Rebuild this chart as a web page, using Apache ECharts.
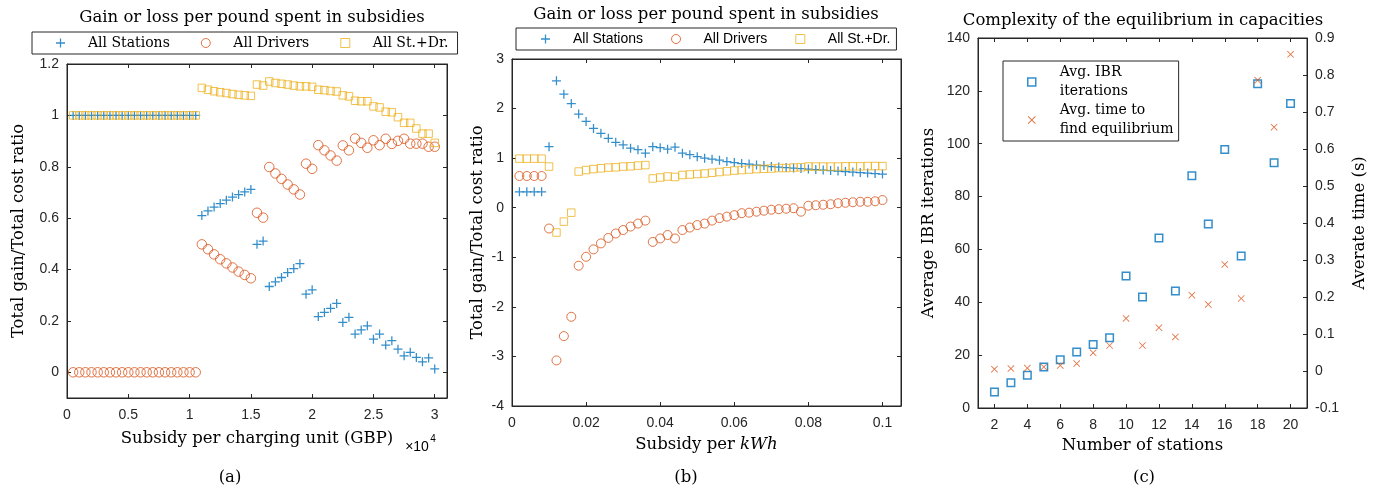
<!DOCTYPE html>
<html>
<head>
<meta charset="utf-8">
<script src="https://cdn.jsdelivr.net/npm/echarts@6/dist/echarts.min.js"></script>
<style>
  html, body { margin: 0; padding: 0; background: #fff; }
  #chart { width: 1377px; height: 488px; }
</style>
</head>
<body>
<div id="chart"></div>
<script>
// (a) subsidy per charging unit (GBP)
var aSubsidy = [500, 1000, 1500, 2000, 2500, 3000, 3500, 4000, 4500, 5000,
  5500, 6000, 6500, 7000, 7500, 8000, 8500, 9000, 9500, 10000,
  10500, 11000, 11500, 12000, 12500, 13000, 13500, 14000, 14500, 15000,
  15500, 16000, 16500, 17000, 17500, 18000, 18500, 19000, 19500, 20000,
  20500, 21000, 21500, 22000, 22500, 23000, 23500, 24000, 24500, 25000,
  25500, 26000, 26500, 27000, 27500, 28000, 28500, 29000, 29500, 30000];
var aStations = [1, 1, 1, 1, 1, 1, 1, 1, 1, 1, 1, 1, 1, 1, 1, 1, 1, 1, 1, 1, 1,
  0.61, 0.628, 0.643, 0.657, 0.670, 0.682, 0.692, 0.702, 0.712,
  0.498, 0.511, 0.334, 0.352, 0.369, 0.388, 0.404, 0.423, 0.304, 0.321,
  0.217, 0.233, 0.249, 0.268, 0.194, 0.214, 0.149, 0.165, 0.181, 0.129,
  0.149, 0.106, 0.123, 0.090, 0.064, 0.078, 0.058, 0.041, 0.056, 0.013];
var aDrivers = [0, 0, 0, 0, 0, 0, 0, 0, 0, 0, 0, 0, 0, 0, 0, 0, 0, 0, 0, 0, 0,
  0.498, 0.479, 0.459, 0.440, 0.424, 0.408, 0.392, 0.379, 0.366,
  0.621, 0.602, 0.799, 0.774, 0.753, 0.731, 0.712, 0.692, 0.812, 0.792,
  0.884, 0.864, 0.844, 0.824, 0.883, 0.864, 0.910, 0.893, 0.874, 0.903,
  0.884, 0.909, 0.889, 0.901, 0.909, 0.890, 0.890, 0.890, 0.878, 0.878];
var aStDr = [1, 1, 1, 1, 1, 1, 1, 1, 1, 1, 1, 1, 1, 1, 1, 1, 1, 1, 1, 1, 1,
  1.107, 1.100, 1.094, 1.090, 1.087, 1.083, 1.080, 1.078, 1.076,
  1.120, 1.116, 1.132, 1.126, 1.123, 1.120, 1.116, 1.113, 1.113, 1.111,
  1.100, 1.098, 1.095, 1.093, 1.078, 1.074, 1.057, 1.055, 1.055, 1.035,
  1.031, 1.014, 1.012, 0.993, 0.971, 0.971, 0.949, 0.929, 0.929, 0.893];
var aXTicks = [0, 5000, 10000, 15000, 20000, 25000, 30000];
var aYTicks = [0, 0.2, 0.4, 0.6, 0.8, 1, 1.2];

// (b) subsidy per kWh
var bSubsidy = [0.002, 0.004, 0.006, 0.008, 0.010, 0.012, 0.014, 0.016, 0.018, 0.020,
  0.022, 0.024, 0.026, 0.028, 0.030, 0.032, 0.034, 0.036, 0.038, 0.040,
  0.042, 0.044, 0.046, 0.048, 0.050, 0.052, 0.054, 0.056, 0.058, 0.060,
  0.062, 0.064, 0.066, 0.068, 0.070, 0.072, 0.074, 0.076, 0.078, 0.080,
  0.082, 0.084, 0.086, 0.088, 0.090, 0.092, 0.094, 0.096, 0.098, 0.100];
var bStations = [0.32, 0.32, 0.32, 0.32,
  1.23, 2.56, 2.29, 2.10, 1.89, 1.74, 1.60, 1.50, 1.40, 1.32,
  1.27, 1.20, 1.17, 1.10, 1.23, 1.21, 1.18, 1.22, 1.10, 1.07,
  1.03, 1.00,
  0.98, 0.96, 0.93, 0.91, 0.89, 0.88, 0.86, 0.85, 0.83, 0.82,
  0.81, 0.80, 0.79, 0.78, 0.77, 0.76, 0.75, 0.74, 0.73, 0.72,
  0.71, 0.70, 0.69, 0.68];
var bDrivers = [0.64, 0.64, 0.64, 0.64,
  -0.42, -3.08, -2.59, -2.20, -1.17, -0.99, -0.84, -0.72, -0.61, -0.52,
  -0.45, -0.38, -0.32, -0.26, -0.69, -0.62, -0.55, -0.62, -0.45, -0.40,
  -0.35, -0.32,
  -0.26, -0.21, -0.18, -0.15, -0.11, -0.10, -0.08, -0.06, -0.04, -0.03,
  -0.02, -0.01, -0.08, 0.04, 0.05, 0.06, 0.07, 0.09, 0.10, 0.11,
  0.12, 0.12, 0.13, 0.155];
var bStDr = [0.99, 0.99, 0.99, 0.99,
  0.83, -0.50, -0.28, -0.10, 0.73, 0.76, 0.78, 0.795, 0.81, 0.815,
  0.83, 0.835, 0.85, 0.86, 0.59, 0.61, 0.63, 0.62, 0.66, 0.67,
  0.68, 0.69,
  0.705, 0.72, 0.735, 0.75, 0.76, 0.77, 0.78, 0.785, 0.79, 0.80,
  0.80, 0.81, 0.815, 0.83, 0.83, 0.83, 0.83, 0.83, 0.835, 0.835,
  0.835, 0.84, 0.84, 0.84];
var bXTicks = [0, 0.02, 0.04, 0.06, 0.08, 0.1];

// (c) number of stations
var cStations = [2, 3, 4, 5, 6, 7, 8, 9, 10, 11, 12, 13, 14, 15, 16, 17, 18, 19, 20];
var cIterations = [6.1, 9.6, 12.4, 15.5, 18.3, 21.2, 24.0, 26.6, 49.9, 42.0,
  64.3, 44.3, 87.9, 69.6, 97.8, 57.5, 122.7, 92.8, 115.2];
var cTime = [0.005, 0.0065, 0.008, 0.011, 0.015, 0.020, 0.049, 0.069, 0.142, 0.069,
  0.117, 0.092, 0.205, 0.180, 0.288, 0.196, 0.786, 0.659, 0.856];
var cXTicks = [2, 4, 6, 8, 10, 12, 14, 16, 18, 20];

var BLUE = '#0072BD';
var RED = '#D95319';
var YELLOW = '#EDB120';
var AXIS = '#262626';
var SERIF = '"DejaVu Serif", serif';
var SANS = '"Liberation Sans", Arial, sans-serif';

var PLUS = 'path://M4.3,0H5.7V4.3H10V5.7H5.7V10H4.3V5.7H0V4.3H4.3Z';
var CROSS = 'path://M0.85,0L5,4.15L9.15,0L10,0.85L5.85,5L10,9.15L9.15,10L5,5.85L0.85,10L0,9.15L4.15,5L0,0.85Z';
var SQUARE = 'path://M0,0H10V10H0Z';

function pairs(xs, ys) {
  return xs.map(function (x, i) { return [x, ys[i]]; });
}

function numLabel(v) {
  return String(+v.toFixed(3));
}

function xAxisFor(grid, min, max, ticks, top, extra, fmt) {
  var ax = {
    type: 'value', gridIndex: grid, min: min, max: max,
    position: top ? 'top' : 'bottom',
    axisLine: { show: true, onZero: false, lineStyle: { color: AXIS, width: 1 } },
    axisTick: { show: true, inside: true, length: 4, customValues: ticks, lineStyle: { color: AXIS } },
    axisLabel: {
      show: !top, customValues: ticks, color: AXIS, fontFamily: SANS, fontSize: 14, margin: 10,
      formatter: fmt || numLabel
    },
    splitLine: { show: false }
  };
  return Object.assign(ax, extra || {});
}

function yAxisFor(grid, min, max, ticks, right, extra) {
  var ax = {
    type: 'value', gridIndex: grid, min: min, max: max,
    position: right ? 'right' : 'left',
    axisLine: { show: true, onZero: false, lineStyle: { color: AXIS, width: 1 } },
    axisTick: { show: true, inside: true, length: 4, lineStyle: { color: AXIS } },
    axisLabel: { show: !right, color: AXIS, fontFamily: SANS, fontSize: 14, margin: 8, formatter: numLabel },
    splitLine: { show: false }
  };
  if (ticks) {
    ax.axisTick.customValues = ticks;
    ax.axisLabel.customValues = ticks;
  }
  return Object.assign(ax, extra || {});
}

var hollow = function (c, w) { return { color: 'rgba(0,0,0,0)', borderColor: c, borderWidth: w || 1 }; };

function sset(name, x, y, data, symbol, size, style) {
  return {
    name: name, type: 'scatter', xAxisIndex: x, yAxisIndex: y,
    data: data, symbol: symbol, symbolSize: size, itemStyle: style,
    silent: true, animation: false
  };
}

var nameStyle = { fontFamily: SERIF, fontSize: 16.5, color: '#000' };
var titleFont = '16.5px ' + SERIF;
function txt(x, y, text, font) {
  return {
    type: 'text', x: x, y: y,
    style: { text: text, font: font, fill: '#000', align: 'center', verticalAlign: 'middle',
      textAlign: 'center', textVerticalAlign: 'middle' }
  };
}

var stationLegend = [
  { name: 'All Stations', icon: PLUS, itemStyle: { color: BLUE } },
  { name: 'All Drivers', icon: 'circle', itemStyle: hollow(RED) },
  { name: 'All St.+Dr.', icon: SQUARE, itemStyle: hollow(YELLOW) }
];

var chart = echarts.init(document.getElementById('chart'));

chart.setOption({
  animation: false,
  backgroundColor: '#fff',
  grid: [
    { left: 67, top: 64, width: 380, height: 334, show: true, borderColor: AXIS, borderWidth: 1 },
    { left: 512, top: 59, width: 389, height: 347, show: true, borderColor: AXIS, borderWidth: 1 },
    { left: 978, top: 38, width: 329, height: 370, show: true, borderColor: AXIS, borderWidth: 1 }
  ],
  legend: [
    {
      left: 32, top: 32, orient: 'horizontal', padding: [4, 9, 4, 24], itemGap: 31,
      itemWidth: 9, itemHeight: 9, borderColor: AXIS, borderWidth: 1,
      textStyle: { fontFamily: SERIF, fontSize: 14, color: '#000', padding: [0, 0, 0, 18] },
      data: stationLegend
    },
    {
      left: 516, top: 28, orient: 'horizontal', padding: [4, 6, 4, 25], itemGap: 28,
      itemWidth: 9, itemHeight: 9, borderColor: AXIS, borderWidth: 1,
      textStyle: { fontFamily: SANS, fontSize: 14, color: '#000', padding: [0, 0, 0, 18] },
      data: stationLegend
    },
    {
      left: 1003, top: 61, orient: 'vertical', padding: [2, 5, 2, 24], itemGap: 0,
      itemWidth: 8, itemHeight: 8, borderColor: AXIS, borderWidth: 1, backgroundColor: '#fff',
      textStyle: { fontFamily: SERIF, fontSize: 14, color: '#000', lineHeight: 19, padding: [0, 0, 0, 19] },
      formatter: function (name) {
        return name === 'Avg. IBR iterations' ? 'Avg. IBR\niterations' : 'Avg. time to\nfind equilibrium';
      },
      data: [
        { name: 'Avg. IBR iterations', icon: SQUARE, itemStyle: hollow(BLUE, 1.5) },
        { name: 'Avg. time to find equilibrium', icon: CROSS, itemStyle: { color: RED } }
      ]
    }
  ],
  xAxis: [
    xAxisFor(0, 0, 31000, aXTicks, false, {
      name: 'Subsidy per charging unit (GBP)', nameLocation: 'middle', nameGap: 32,
      nameTextStyle: nameStyle
    }, function (v) { return String(v / 10000); }),
    xAxisFor(0, 0, 31000, aXTicks, true),
    xAxisFor(1, 0, 0.105, bXTicks, false, {
      name: 'Subsidy per {i|kWh}', nameLocation: 'middle', nameGap: 30,
      nameTextStyle: Object.assign({ rich: { i: { fontFamily: SERIF, fontStyle: 'italic', fontSize: 16.5, color: '#000' } } }, nameStyle)
    }),
    xAxisFor(1, 0, 0.105, bXTicks, true),
    xAxisFor(2, 1, 21, cXTicks, false, {
      name: 'Number of stations', nameLocation: 'middle', nameGap: 27,
      nameTextStyle: nameStyle
    }),
    xAxisFor(2, 1, 21, cXTicks, true)
  ],
  yAxis: [
    yAxisFor(0, -0.1, 1.2, aYTicks, false, {
      name: 'Total gain/Total cost ratio', nameLocation: 'middle', nameGap: 40, nameRotate: 90,
      nameTextStyle: nameStyle
    }),
    yAxisFor(0, -0.1, 1.2, aYTicks, true),
    yAxisFor(1, -4, 3, null, false, {
      interval: 1,
      name: 'Total gain/Total cost ratio', nameLocation: 'middle', nameGap: 26, nameRotate: 90,
      nameTextStyle: nameStyle
    }),
    yAxisFor(1, -4, 3, null, true, { interval: 1 }),
    yAxisFor(2, 0, 140, null, false, {
      interval: 20,
      name: 'Average IBR iterations', nameLocation: 'middle', nameGap: 41, nameRotate: 90,
      nameTextStyle: nameStyle
    }),
    yAxisFor(2, -0.1, 0.9, null, false, {
      interval: 0.1, position: 'right',
      name: 'Averate time (s)', nameLocation: 'middle', nameGap: 44, nameRotate: 90,
      nameTextStyle: nameStyle
    })
  ],
  series: [
    sset('All Stations', 0, 0, pairs(aSubsidy, aStations), PLUS, 9, { color: BLUE }),
    sset('All Drivers', 0, 0, pairs(aSubsidy, aDrivers), 'circle', 9.5, hollow(RED)),
    sset('All St.+Dr.', 0, 0, pairs(aSubsidy, aStDr), 'rect', 7.5, hollow(YELLOW)),
    sset('All Stations', 2, 2, pairs(bSubsidy, bStations), PLUS, 9, { color: BLUE }),
    sset('All Drivers', 2, 2, pairs(bSubsidy, bDrivers), 'circle', 9, hollow(RED)),
    sset('All St.+Dr.', 2, 2, pairs(bSubsidy, bStDr), 'rect', 7.5, hollow(YELLOW)),
    sset('Avg. IBR iterations', 4, 4, pairs(cStations, cIterations), 'rect', 7.5, hollow(BLUE, 1.5)),
    sset('Avg. time to find equilibrium', 4, 5, pairs(cStations, cTime), CROSS, 7, { color: RED })
  ],
  graphic: [
    txt(252, 18, 'Gain or loss per pound spent in subsidies', titleFont),
    txt(706, 15, 'Gain or loss per pound spent in subsidies', titleFont),
    txt(1143, 21, 'Complexity of the equilibrium in capacities', titleFont),
    txt(230, 478, '(a)', titleFont),
    txt(686, 478, '(b)', titleFont),
    txt(1144, 478, '(c)', titleFont),
    txt(417, 447, '\u00d710', '14px ' + SANS),
    txt(433, 439, '4', '10px ' + SANS)
  ]
});
</script>
</body>
</html>
